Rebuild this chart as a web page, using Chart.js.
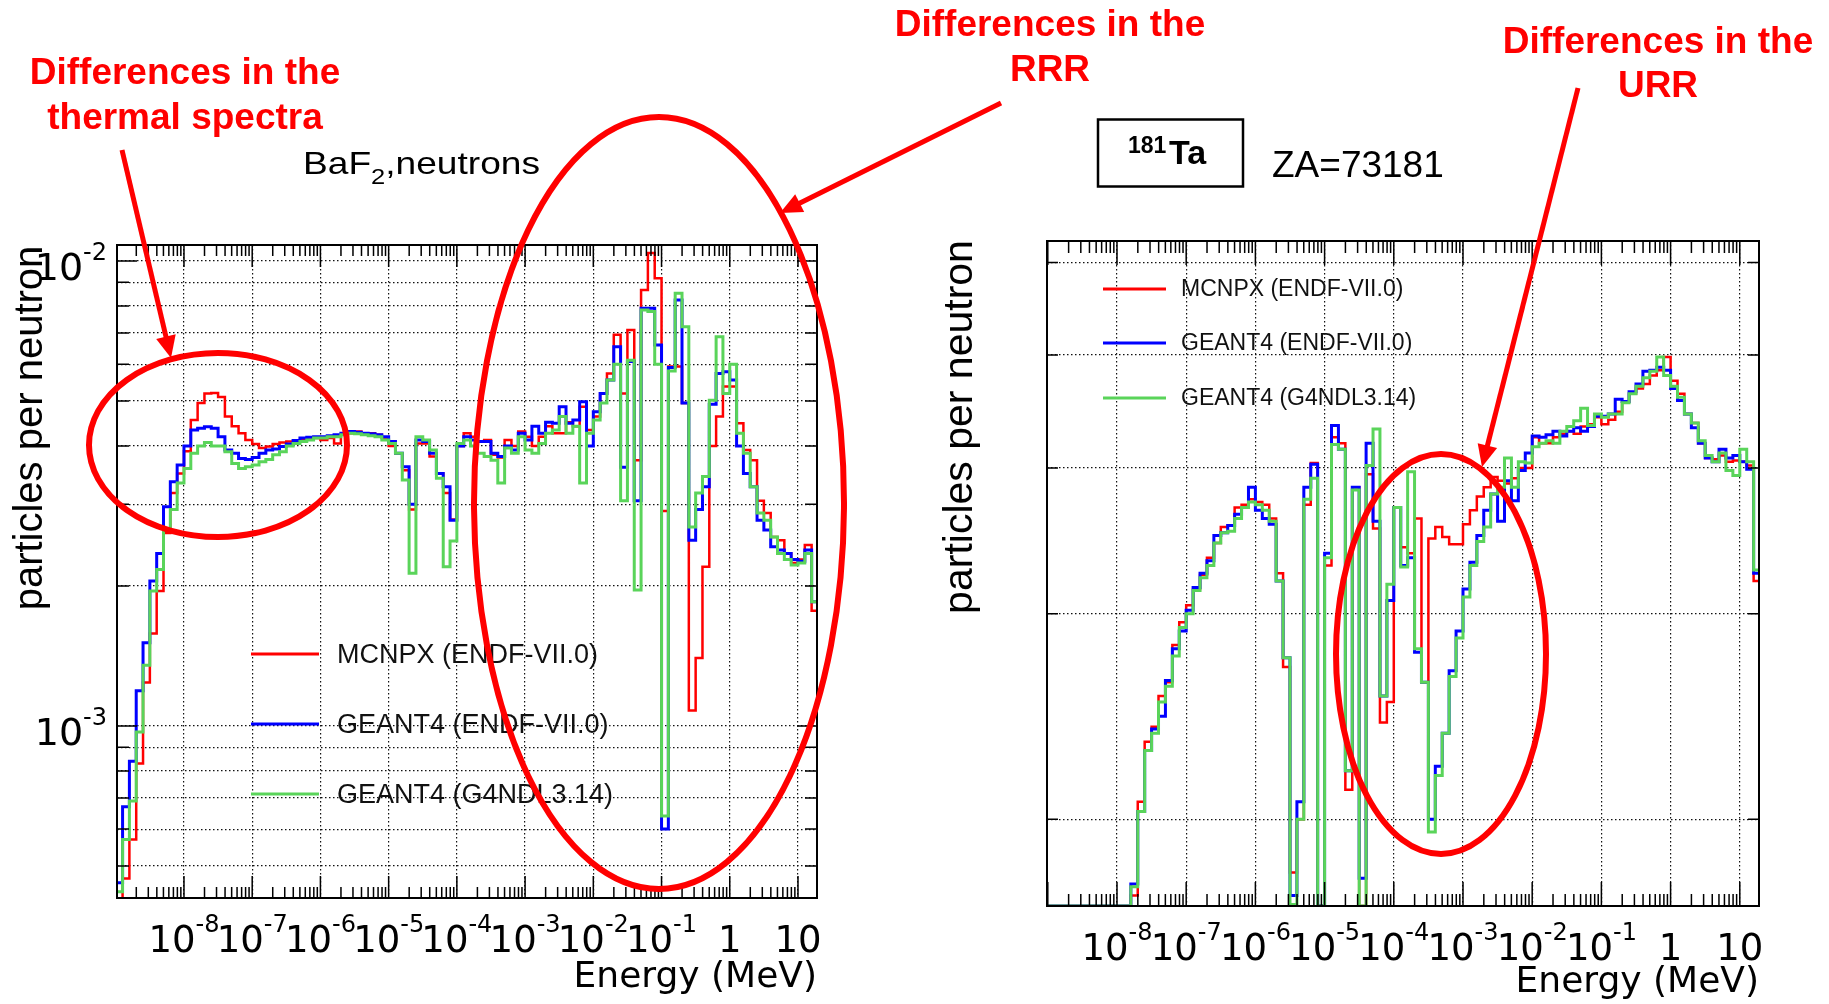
<!DOCTYPE html>
<html>
<head>
<meta charset="utf-8">
<title>BaF2 and 181Ta neutron spectra</title>
<script src="https://cdn.jsdelivr.net/npm/chart.js@4.4.1/dist/chart.umd.min.js"></script>
<style>
  html, body { margin: 0; padding: 0; background: #fff; }
  #page { position: relative; width: 1829px; height: 1004px; overflow: hidden; background: #fff; }
  #page canvas, #page svg { position: absolute; left: 0; top: 0; }
</style>
</head>
<body>
<div id="page">
  <canvas id="chart-baf2" width="1829" height="1004"></canvas>
  <canvas id="chart-ta" width="1829" height="1004"></canvas>
  <svg id="notes" width="1829" height="1004" viewBox="0 0 1829 1004" font-family="'Liberation Sans', Arial, sans-serif">
    <text x="303" y="174" font-size="32" textLength="237" lengthAdjust="spacingAndGlyphs">BaF<tspan font-size="22" dy="10">2</tspan><tspan dy="-10">,neutrons</tspan></text>
    <rect x="1098" y="119.5" width="145" height="67" fill="none" stroke="#000" stroke-width="2.5"/>
    <text x="1128" y="153" font-size="23" font-weight="bold">181</text>
    <text x="1169" y="164" font-size="34" font-weight="bold">Ta</text>
    <text x="1272" y="177" font-size="37">ZA=73181</text>

    <text transform="translate(42 428) rotate(-90)" text-anchor="middle" font-size="40">particles per neutron</text>
    <text transform="translate(972 427) rotate(-90)" text-anchor="middle" font-size="41">particles per neutron</text>
    <text x="817" y="987" text-anchor="end" font-family="'DejaVu Sans', sans-serif" font-size="36">Energy (MeV)</text>
    <text x="1759" y="992" text-anchor="end" font-family="'DejaVu Sans', sans-serif" font-size="36">Energy (MeV)</text>

    <g id="legends"></g>

    <g fill="#ff0000" font-weight="bold" font-size="37" text-anchor="middle">
      <text x="185" y="84">Differences in the</text>
      <text x="185" y="129">thermal spectra</text>
      <text x="1050" y="36">Differences in the</text>
      <text x="1050" y="81">RRR</text>
      <text x="1658" y="53">Differences in the</text>
      <text x="1658" y="97">URR</text>
    </g>
    <g fill="none" stroke="#ff0000" stroke-width="6">
      <ellipse cx="218" cy="445" rx="129" ry="92"/>
      <ellipse cx="659" cy="503" rx="185" ry="386"/>
      <ellipse cx="1441" cy="654" rx="105" ry="200"/>
    </g>
    <g id="arrows"></g>
  </svg>
</div>
<script>
// energy bin edges, log10(E / MeV), shared by all six histograms
const binLog10E = [
  -9.0, -8.9, -8.8, -8.7, -8.6, -8.5, -8.4, -8.3, -8.2, -8.1,
  -8.0, -7.9, -7.8, -7.7, -7.6, -7.5, -7.4, -7.3, -7.2, -7.1,
  -7.0, -6.9, -6.8, -6.7, -6.6, -6.5, -6.4, -6.3, -6.2, -6.1,
  -6.0, -5.9, -5.8, -5.7, -5.6, -5.5, -5.4, -5.3, -5.2, -5.1,
  -5.0, -4.9, -4.8, -4.7, -4.6, -4.5, -4.4, -4.3, -4.2, -4.1,
  -4.0, -3.9, -3.8, -3.7, -3.6, -3.5, -3.4, -3.3, -3.2, -3.1,
  -3.0, -2.9, -2.8, -2.7, -2.6, -2.5, -2.4, -2.3, -2.2, -2.1,
  -2.0, -1.9, -1.8, -1.7, -1.6, -1.5, -1.4, -1.3, -1.2, -1.1,
  -1.0, -0.9, -0.8, -0.7, -0.6, -0.5, -0.4, -0.3, -0.2, -0.1,
  0.0, 0.1, 0.2, 0.3, 0.4, 0.5, 0.6, 0.7, 0.8, 0.9,
  1.0, 1.1, 1.2, 1.3
];

// BaF2, neutrons: particles per neutron, in units of 1e-3
const bafMcnpx = [
  0.40, 0.47, 0.57, 0.83, 1.24, 1.58, 1.95, 2.60, 3.17, 3.49,
  3.90, 4.55, 4.95, 5.19, 5.20, 5.10, 4.63, 4.41, 4.26, 4.12,
  4.04, 3.96, 3.99, 4.04, 4.07, 4.09, 4.11, 4.12, 4.14, 4.16,
  4.12, 4.16, 4.05, 4.23, 4.26, 4.30, 4.26, 4.26, 4.23, 4.16,
  4.00, 3.86, 3.55, 2.92, 4.05, 4.05, 3.80, 3.49, 3.17, 2.78,
  4.00, 4.26, 4.19, 4.09, 4.12, 3.83, 3.78, 4.12, 4.00, 4.30,
  4.19, 4.00, 4.19, 4.41, 4.26, 4.26, 4.50, 4.41, 4.86, 4.33,
  4.63, 5.19, 5.73, 6.94, 5.19, 7.11, 3.73, 8.66, 10.4, 9.18,
  2.90, 5.93, 5.93, 4.95, 1.08, 1.40, 2.20, 4.00, 4.63, 5.37,
  5.37, 4.48, 3.92, 3.73, 3.05, 2.87, 2.55, 2.51, 2.35, 2.24,
  2.28, 2.45, 1.77
];
const bafG4Endf = [
  0.46, 0.67, 0.84, 1.19, 1.51, 2.05, 2.35, 2.96, 3.35, 3.64,
  4.00, 4.33, 4.37, 4.40, 4.37, 4.19, 3.92, 3.86, 3.76, 3.74,
  3.78, 3.86, 3.92, 3.94, 3.99, 4.04, 4.11, 4.16, 4.18, 4.19,
  4.19, 4.21, 4.23, 4.26, 4.30, 4.28, 4.26, 4.25, 4.23, 4.19,
  4.09, 3.86, 3.61, 3.00, 4.12, 4.09, 3.86, 3.49, 3.27, 2.77,
  4.00, 4.19, 4.12, 4.09, 4.09, 3.86, 3.80, 4.00, 3.92, 4.26,
  4.12, 4.41, 4.26, 4.50, 4.48, 4.86, 4.48, 4.55, 4.98, 4.00,
  4.74, 5.19, 5.55, 6.54, 3.60, 6.08, 3.05, 7.91, 7.91, 6.60,
  0.60, 5.90, 8.24, 4.95, 2.51, 2.92, 3.27, 4.92, 5.73, 5.78,
  5.55, 4.00, 3.49, 3.27, 2.77, 2.64, 2.43, 2.39, 2.35, 2.28,
  2.26, 2.39, 1.85
];
const bafG4Ndl = [
  0.44, 0.57, 0.69, 0.97, 1.35, 1.95, 2.17, 2.64, 2.92, 3.33,
  3.58, 3.86, 4.00, 4.07, 4.00, 4.00, 3.89, 3.67, 3.58, 3.61,
  3.64, 3.70, 3.74, 3.83, 3.89, 4.00, 4.05, 4.09, 4.12, 4.16,
  4.16, 4.19, 4.19, 4.23, 4.26, 4.25, 4.23, 4.21, 4.19, 4.12,
  4.05, 3.86, 3.38, 2.13, 4.19, 4.12, 3.92, 3.41, 2.20, 2.50,
  4.05, 4.12, 4.00, 3.86, 3.80, 3.73, 3.33, 3.96, 3.86, 4.19,
  3.92, 3.86, 4.05, 4.26, 4.33, 4.63, 4.26, 4.41, 3.33, 4.26,
  4.55, 4.95, 5.55, 6.00, 3.05, 6.12, 1.96, 7.85, 7.79, 6.00,
  0.64, 5.80, 8.52, 7.22, 2.68, 3.17, 3.44, 5.02, 6.87, 5.19,
  6.00, 4.26, 3.86, 3.27, 2.87, 2.77, 2.55, 2.35, 2.28, 2.22,
  2.24, 2.35, 1.85
];

// 181Ta (ZA=73181): particles per neutron, in units of 1e-3
const taMcnpx = [
  1.685, 1.685, 1.685, 1.685, 1.685, 1.685, 1.685, 1.685, 1.685, 1.685,
  1.685, 1.685, 1.72, 2.07, 2.33, 2.40, 2.55, 2.62, 2.82, 2.95,
  3.05, 3.15, 3.24, 3.35, 3.45, 3.56, 3.57, 3.70, 3.72, 3.76,
  3.74, 3.72, 3.62, 3.25, 2.70, 1.80, 2.00, 3.72, 4.04, 1.685,
  3.30, 4.25, 4.20, 2.12, 3.85, 1.685, 3.95, 3.55, 2.42, 2.52,
  3.70, 3.42, 3.38, 3.62, 2.62, 3.48, 3.56, 3.49, 3.44, 3.44,
  3.58, 3.68, 3.78, 3.85, 3.93, 3.90, 3.88, 3.92, 4.00, 4.00,
  4.25, 4.20, 4.20, 4.25, 4.28, 4.30, 4.28, 4.34, 4.36, 4.42,
  4.36, 4.40, 4.47, 4.56, 4.63, 4.68, 4.72, 4.80, 4.85, 4.98,
  4.75, 4.63, 4.45, 4.37, 4.20, 4.08, 4.07, 4.10, 4.05, 4.06,
  4.05, 4.02, 3.20
];
const taG4Endf = [
  1.685, 1.685, 1.685, 1.685, 1.685, 1.685, 1.685, 1.685, 1.685, 1.685,
  1.685, 1.685, 1.76, 2.03, 2.29, 2.39, 2.45, 2.63, 2.80, 2.90,
  3.02, 3.16, 3.25, 3.33, 3.50, 3.52, 3.57, 3.65, 3.70, 3.85,
  3.68, 3.62, 3.58, 3.20, 2.75, 1.72, 2.07, 3.85, 4.03, 1.685,
  3.38, 4.35, 4.15, 2.20, 3.85, 1.78, 4.20, 3.60, 2.55, 3.08,
  3.70, 3.30, 3.35, 2.78, 2.62, 2.00, 2.22, 2.37, 2.68, 2.90,
  3.15, 3.32, 3.50, 3.68, 3.80, 3.60, 3.90, 3.75, 3.98, 4.12,
  4.26, 4.25, 4.27, 4.30, 4.26, 4.30, 4.33, 4.30, 4.34, 4.43,
  4.43, 4.45, 4.58, 4.56, 4.65, 4.72, 4.84, 4.85, 4.88, 4.85,
  4.68, 4.57, 4.45, 4.33, 4.20, 4.08, 4.05, 4.15, 4.08, 4.10,
  4.05, 3.99, 3.25
];
const taG4Ndl = [
  1.685, 1.685, 1.685, 1.685, 1.685, 1.685, 1.685, 1.685, 1.685, 1.685,
  1.685, 1.685, 1.75, 2.03, 2.29, 2.37, 2.52, 2.60, 2.76, 2.92,
  3.00, 3.14, 3.22, 3.30, 3.45, 3.52, 3.53, 3.62, 3.70, 3.74,
  3.72, 3.68, 3.60, 3.20, 2.75, 1.69, 2.00, 3.76, 3.92, 1.685,
  3.35, 4.19, 4.15, 2.20, 3.83, 1.685, 4.02, 4.32, 2.55, 3.18,
  3.70, 3.29, 3.97, 2.80, 2.62, 1.95, 2.18, 2.37, 2.65, 2.86,
  3.10, 3.30, 3.46, 3.56, 3.80, 3.85, 4.08, 3.85, 4.05, 4.04,
  4.17, 4.20, 4.22, 4.20, 4.30, 4.34, 4.39, 4.50, 4.35, 4.45,
  4.42, 4.45, 4.45, 4.55, 4.63, 4.70, 4.78, 4.84, 4.98, 4.80,
  4.70, 4.60, 4.45, 4.37, 4.22, 4.10, 4.05, 4.12, 3.98, 3.94,
  4.15, 4.05, 3.27
];

const seriesLabels = ['MCNPX (ENDF-VII.0)', 'GEANT4 (ENDF-VII.0)', 'GEANT4 (G4NDL3.14)'];
const seriesColors = ['#ff0000', '#0000ff', '#5ad45a'];

const xTickValues = [1e-8, 1e-7, 1e-6, 1e-5, 1e-4, 1e-3, 1e-2, 1e-1, 1, 10];
const xTickLabels = ['10^-8', '10^-7', '10^-6', '10^-5', '10^-4', '10^-3', '10^-2', '10^-1', '1', '10'];
const bafYTickValues = [1e-3, 1e-2];
const bafYTickLabels = ['10^-3', '10^-2'];
const taYTickValues = [2e-3, 3e-3, 4e-3, 5e-3, 6e-3];

const W = 1829, H = 1004;

function logSteps(lo, hi) {
  const out = [];
  for (let e = Math.floor(Math.log10(lo)); e <= Math.ceil(Math.log10(hi)); e++) {
    for (let m = 1; m <= 9; m++) {
      const v = m * Math.pow(10, e);
      if (v >= lo * 0.999 && v <= hi * 1.001) out.push(v);
    }
  }
  return out;
}
const isDecade = v => Math.abs(Math.log10(v) - Math.round(Math.log10(v))) < 1e-6;

function histogram(values) {
  const pts = values.map((v, i) => ({ x: Math.pow(10, binLog10E[i]), y: v * 1e-3 }));
  pts.push({ x: Math.pow(10, binLog10E[values.length]), y: values[values.length - 1] * 1e-3 });
  return pts;
}

function datasets(red, blue, green) {
  const vals = [red, blue, green];
  const widths = [2.5, 3, 3];
  // dataset 0 is painted last, so green goes first and ends up on top
  return [2, 1, 0].map(k => ({
    label: seriesLabels[k],
    data: histogram(vals[k]),
    borderColor: seriesColors[k],
    borderWidth: widths[k],
    stepped: true,
    pointRadius: 0,
    fill: false
  }));
}

function powerLabel(ctx, label, x, baseline, align, size, expSize) {
  const parts = label.split('^');
  ctx.font = size + 'px "DejaVu Sans"';
  const wb = ctx.measureText(parts[0]).width;
  let we = 0;
  if (parts[1]) {
    ctx.font = expSize + 'px "DejaVu Sans"';
    we = ctx.measureText(parts[1]).width;
  }
  const x0 = align === 'center' ? x - (wb + we) / 2 : x - (wb + we);
  ctx.textAlign = 'left';
  ctx.textBaseline = 'alphabetic';
  ctx.font = size + 'px "DejaVu Sans"';
  ctx.fillText(parts[0], x0, baseline);
  if (parts[1]) {
    ctx.font = expSize + 'px "DejaVu Sans"';
    ctx.fillText(parts[1], x0 + wb, baseline - 20);
  }
}

// ROOT-like frame: inward ticks on all four sides, power-of-ten labels
const axesStyle = {
  'chart-baf2': { xMajor: 22, xMinor: 11, yMajor: 20, yMinor: 12, yMajorAt: bafYTickValues,
                  yLabels: bafYTickLabels, yLabelValues: bafYTickValues },
  'chart-ta':   { xMajor: 24, xMinor: 12, yMajor: 11, yMinor: 11, yMajorAt: [],
                  yLabels: [], yLabelValues: [] }
};

const rootAxes = {
  id: 'rootAxes',
  afterDatasetsDraw(chart) {
    const st = axesStyle[chart.canvas.id];
    const { ctx, chartArea: a } = chart;
    const x = chart.scales.x, y = chart.scales.y;
    ctx.save();
    ctx.strokeStyle = '#000';
    ctx.lineWidth = 1.5;
    ctx.beginPath();
    logSteps(x.min, x.max).forEach(v => {
      const px = x.getPixelForValue(v);
      const len = isDecade(v) ? st.xMajor : st.xMinor;
      ctx.moveTo(px, a.bottom); ctx.lineTo(px, a.bottom - len);
      ctx.moveTo(px, a.top); ctx.lineTo(px, a.top + len);
    });
    y.ticks.forEach(t => {
      const py = y.getPixelForValue(t.value);
      const len = st.yMajorAt.some(m => Math.abs(m - t.value) < 1e-12) ? st.yMajor : st.yMinor;
      ctx.moveTo(a.left, py); ctx.lineTo(a.left + len, py);
      ctx.moveTo(a.right, py); ctx.lineTo(a.right - len, py);
    });
    ctx.stroke();
    ctx.lineWidth = 2;
    ctx.strokeRect(a.left, a.top, a.right - a.left, a.bottom - a.top);

    ctx.fillStyle = '#000';
    xTickValues.forEach((v, i) => {
      powerLabel(ctx, xTickLabels[i], x.getPixelForValue(v), a.bottom + 54, 'center', 37, 24);
    });
    st.yLabelValues.forEach((v, i) => {
      powerLabel(ctx, st.yLabels[i], a.left - 10, y.getPixelForValue(v) + 19, 'right', 38, 24);
    });
    ctx.restore();
  }
};

function makeChart(id, cfg) {
  const gridStyle = { color: '#111', lineWidth: 1.2, drawTicks: false };
  const borderStyle = { display: false, dash: [1.5, 2.5] };
  return new Chart(document.getElementById(id), {
    type: 'line',
    data: { datasets: cfg.datasets },
    options: {
      responsive: false,
      animation: false,
      devicePixelRatio: 1,
      events: [],
      layout: {
        padding: { left: cfg.area.left, top: cfg.area.top, right: W - cfg.area.right, bottom: H - cfg.area.bottom }
      },
      plugins: { legend: { display: false }, tooltip: { enabled: false } },
      scales: {
        x: {
          type: 'logarithmic', bounds: 'data', min: cfg.xMin, max: cfg.xMax,
          afterBuildTicks: s => { s.ticks = xTickValues.map(v => ({ value: v })); },
          afterFit: s => { s.height = 0; },
          ticks: { display: false },
          grid: gridStyle,
          border: borderStyle
        },
        y: {
          type: 'logarithmic', bounds: 'data', min: cfg.yMin, max: cfg.yMax,
          afterBuildTicks: s => { s.ticks = cfg.yGrid.map(v => ({ value: v })); },
          afterFit: s => { s.width = 0; },
          ticks: { display: false },
          grid: gridStyle,
          border: borderStyle
        }
      }
    },
    plugins: [rootAxes]
  });
}

makeChart('chart-baf2', {
  datasets: datasets(bafMcnpx, bafG4Endf, bafG4Ndl),
  area: { left: 117, top: 245, right: 817, bottom: 898 },
  xMin: 1.043e-9, xMax: 19.0,
  yMin: 4.266e-4, yMax: 1.0825e-2,
  yGrid: logSteps(5e-4, 1e-2)
});

makeChart('chart-ta', {
  datasets: datasets(taMcnpx, taG4Endf, taG4Ndl),
  area: { left: 1047, top: 241, right: 1759, bottom: 906 },
  xMin: 9.74e-10, xMax: 18.95,
  yMin: 1.685e-3, yMax: 6.26e-3,
  yGrid: taYTickValues
});

// legends and annotation arrows
const NS = 'http://www.w3.org/2000/svg';
function svgEl(parent, tag, attrs, text) {
  const el = document.createElementNS(NS, tag);
  Object.keys(attrs).forEach(k => el.setAttribute(k, attrs[k]));
  if (text !== undefined) el.textContent = text;
  document.getElementById(parent).appendChild(el);
  return el;
}

const legendBoxes = [
  { x1: 251, x2: 319, textX: 337, rows: [654, 724, 794], size: 27, drop: 9 },
  { x1: 1103, x2: 1166, textX: 1181, rows: [289, 343, 398], size: 23, drop: 7 }
];
legendBoxes.forEach(lg => {
  seriesLabels.forEach((label, k) => {
    const yy = lg.rows[k];
    svgEl('legends', 'line', { x1: lg.x1, y1: yy, x2: lg.x2, y2: yy, stroke: seriesColors[k], 'stroke-width': 3 });
    svgEl('legends', 'text', { x: lg.textX, y: yy + lg.drop, 'font-size': lg.size, fill: '#111' }, label);
  });
});

function arrow(x1, y1, x2, y2) {
  const len = Math.hypot(x2 - x1, y2 - y1);
  const ux = (x2 - x1) / len, uy = (y2 - y1) / len;
  const head = 22, half = 10;
  const bx = x2 - head * ux, by = y2 - head * uy;
  svgEl('arrows', 'line', { x1: x1, y1: y1, x2: bx + 3 * ux, y2: by + 3 * uy, stroke: '#ff0000', 'stroke-width': 5 });
  const pts = [
    [x2, y2],
    [bx - half * uy, by + half * ux],
    [bx + half * uy, by - half * ux]
  ].map(p => p[0].toFixed(1) + ',' + p[1].toFixed(1)).join(' ');
  svgEl('arrows', 'polygon', { points: pts, fill: '#ff0000' });
}
arrow(122, 150, 171, 358);
arrow(1001, 103, 780, 213);
arrow(1578, 88, 1482, 467);
</script>
</body>
</html>
